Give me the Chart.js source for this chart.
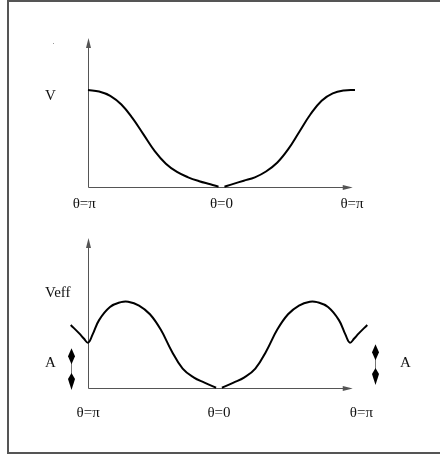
<!DOCTYPE html>
<html>
<head>
<meta charset="utf-8">
<script src="https://cdn.jsdelivr.net/npm/chart.js@4/dist/chart.umd.min.js"></script>
<style>
  body { margin: 0; background: #fff; }
  #page { position: relative; width: 440px; height: 457px; overflow: hidden; }
  #frame {
    position: absolute; left: 7px; top: 0px; width: 440px; height: 450px;
    border: 2px solid #555; border-right: none;
  }
  canvas { position: absolute; left: 0; }
  #topChart { top: 0; }
  #bottomChart { top: 220px; }
</style>
</head>
<body>
<div id="page">
  <div id="frame"></div>
  <canvas id="topChart" width="440" height="220"></canvas>
  <canvas id="bottomChart" width="440" height="237"></canvas>
</div>
<script>
// angles in degrees (theta)
const thetaTop = [-180, -165, -150, -135, -120, -105, -90, -75, -60, -45, -30, -15, -4, 0,
                  4, 15, 30, 45, 60, 75, 90, 105, 120, 135, 150, 165, 180];
const vTop = [1.0, 0.985, 0.94, 0.85, 0.71, 0.54, 0.37, 0.24, 0.155, 0.10, 0.06, 0.028, 0.003, null,
              0.003, 0.03, 0.065, 0.10, 0.16, 0.25, 0.39, 0.57, 0.75, 0.89, 0.965, 0.995, 1.0];

const thetaBottom = [-204, -192, -186, -180, -174, -165, -150, -135, -125, -110, -95, -80, -65, -50, -35, -20, -4, 0,
                     4, 20, 35, 50, 65, 80, 95, 110, 125, 135, 150, 165, 174, 180, 186, 192, 204];
const vBottom = [0.65, 0.56, 0.51, 0.467, 0.55, 0.70, 0.835, 0.885, 0.89, 0.85, 0.76, 0.60, 0.38, 0.20, 0.11, 0.055, 0.003, null,
                 0.003, 0.055, 0.11, 0.20, 0.38, 0.60, 0.76, 0.85, 0.89, 0.885, 0.835, 0.70, 0.55, 0.467, 0.51, 0.56, 0.65];

const tickLabels = ['θ=π', 'θ=0', 'θ=π'];
const tickTop = [-185, 0, 176];
const tickBottom = [-180, 0, 196];

// the two "A" double arrows in the lower plot
const markerX = [-204, 214];
const markerHigh = [0.41, 0.45];
const markerLow = [-0.02, 0.03];

const FONT = '15px "Liberation Serif", "DejaVu Serif", serif';

function toPoints(xs, ys) {
    return xs.map((x, i) => ({ x: x, y: ys[i] }));
}

function diamond(ctx, x, tip, dir, len, wideAt) {
    // dir = 1 points up, -1 points down
    ctx.beginPath();
    ctx.moveTo(x, tip);
    ctx.lineTo(x - 3.5, tip + dir * wideAt);
    ctx.lineTo(x, tip + dir * len);
    ctx.lineTo(x + 3.5, tip + dir * wideAt);
    ctx.closePath();
    ctx.fill();
}

const decor = {
    id: 'decor',
    beforeDatasetsDraw(chart, args, opts) {
        const ctx = chart.ctx;
        const xs = chart.scales.x, ys = chart.scales.y;
        const x0 = Math.round(xs.getPixelForValue(opts.axisStart)) + 0.5;
        const y0 = Math.round(ys.getPixelForValue(0)) + 0.5;
        const yTop = chart.chartArea.top;
        const xEnd = xs.getPixelForValue(opts.axisEnd);

        ctx.save();
        ctx.strokeStyle = '#555';
        ctx.fillStyle = '#555';
        ctx.lineWidth = 1;
        ctx.beginPath();
        ctx.moveTo(x0, y0);
        ctx.lineTo(x0, yTop + 4);
        ctx.moveTo(x0, y0);
        ctx.lineTo(xEnd - 4, y0);
        ctx.stroke();
        // arrow heads
        ctx.beginPath();
        ctx.moveTo(x0, yTop);
        ctx.lineTo(x0 - 2.5, yTop + 10);
        ctx.lineTo(x0 + 2.5, yTop + 10);
        ctx.closePath();
        ctx.fill();
        ctx.beginPath();
        ctx.moveTo(xEnd, y0);
        ctx.lineTo(xEnd - 10, y0 - 2.5);
        ctx.lineTo(xEnd - 10, y0 + 2.5);
        ctx.closePath();
        ctx.fill();

        // tick labels
        ctx.fillStyle = '#111';
        ctx.font = FONT;
        ctx.textAlign = 'center';
        ctx.textBaseline = 'middle';
        opts.ticks.forEach((t, i) => {
            ctx.fillText(tickLabels[i], xs.getPixelForValue(t), y0 + opts.labelGap);
        });

        // free texts
        ctx.textAlign = 'left';
        opts.texts.forEach(t => ctx.fillText(t.text, t.x, t.y));

        // double arrows
        (opts.markers || []).forEach((m, i) => {
            const mx = Math.round(xs.getPixelForValue(markerX[i])) + 0.5;
            const hi = ys.getPixelForValue(markerHigh[i]);
            const lo = ys.getPixelForValue(markerLow[i]);
            ctx.strokeStyle = '#777';
            ctx.beginPath();
            ctx.moveTo(mx, hi + 8);
            ctx.lineTo(mx, lo - 8);
            ctx.stroke();
            ctx.fillStyle = '#000';
            diamond(ctx, mx, hi, 1, 16, 8);
            diamond(ctx, mx, lo, -1, 17, 11);
        });

        if (opts.speck) {
            ctx.fillStyle = '#999';
            ctx.fillRect(opts.speck.x, opts.speck.y, 1, 1);
        }
        ctx.restore();
    }
};

function lineDataset(xs, ys) {
    return {
        data: toPoints(xs, ys),
        showLine: true,
        spanGaps: false,
        borderColor: '#000',
        borderWidth: 2,
        pointRadius: 0,
        tension: 0.4,
        clip: false
    };
}

function baseOptions(xMin, xMax, yMax, padding, decorOpts) {
    return {
        responsive: false,
        animation: false,
        layout: { padding: padding },
        plugins: {
            legend: { display: false },
            tooltip: { enabled: false },
            decor: decorOpts
        },
        scales: {
            x: { type: 'linear', min: xMin, max: xMax, display: false },
            y: { type: 'linear', min: 0, max: yMax, display: false }
        }
    };
}

// upper plot: V
new Chart(document.getElementById('topChart'), {
    type: 'scatter',
    data: { datasets: [lineDataset(thetaTop, vTop)] },
    options: baseOptions(-180, 180, 149 / 97,
        { left: 88, right: 85, top: 38, bottom: 33 },
        {
            axisStart: -180, axisEnd: 177,
            ticks: tickTop, labelGap: 17,
            texts: [{ text: 'V', x: 45, y: 96 }],
            speck: { x: 53, y: 43 }
        }),
    plugins: [decor]
});

// lower plot: Veff
new Chart(document.getElementById('bottomChart'), {
    type: 'scatter',
    data: { datasets: [lineDataset(thetaBottom, vBottom)] },
    options: baseOptions(-205, 205, 150 / 97,
        { left: 70, right: 72, top: 18, bottom: 69 },
        {
            axisStart: -180, axisEnd: 184,
            ticks: tickBottom, labelGap: 25,
            texts: [
                { text: 'Veff', x: 45, y: 73 },
                { text: 'A', x: 45, y: 143 },
                { text: 'A', x: 400, y: 143 }
            ],
            markers: [0, 1]
        }),
    plugins: [decor]
});
</script>
</body>
</html>
